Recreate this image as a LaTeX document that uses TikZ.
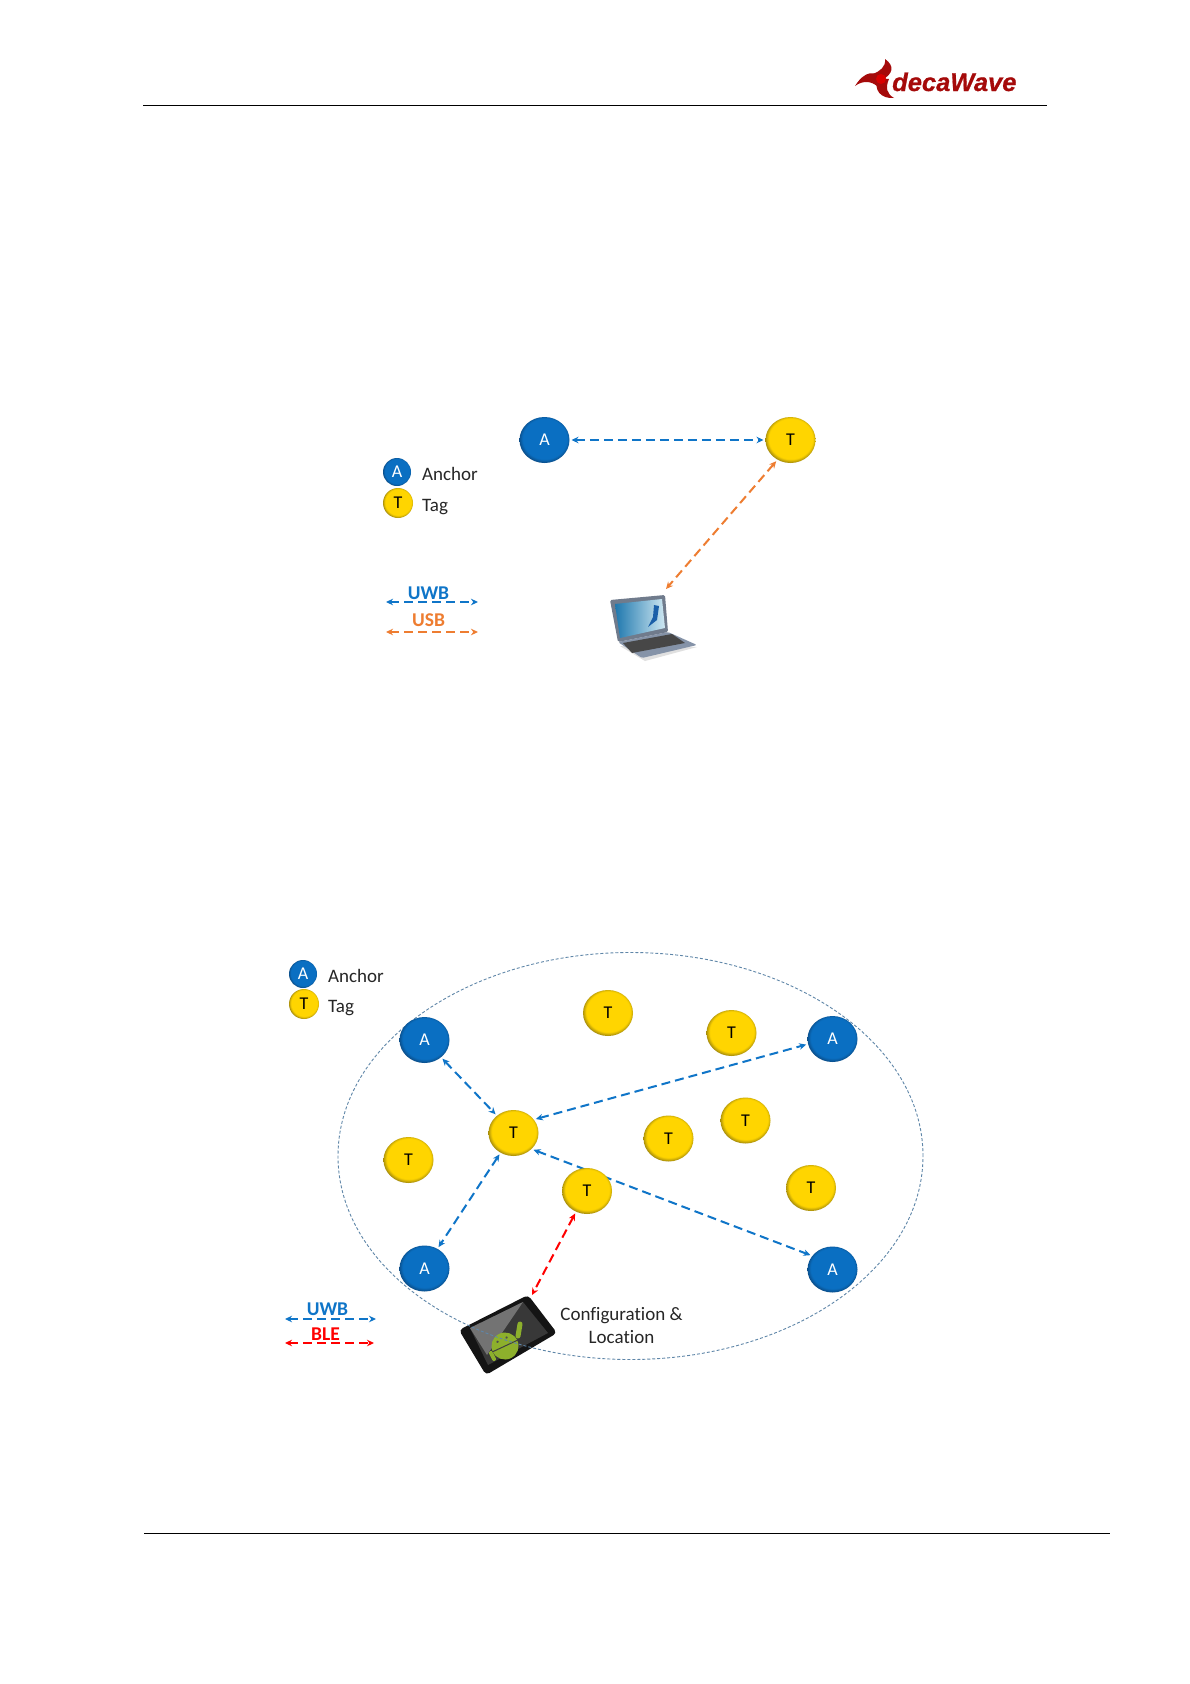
\documentclass[tikz,border=0pt]{standalone}
\usepackage{fontspec}
\setmainfont{Carlito}[Ligatures=NoCommon]
\newfontfamily\logofont{Liberation Sans}[BoldItalicFeatures={FakeBold=0.7}]
\usetikzlibrary{arrows.meta,shapes.geometric}
\pgfdeclarelayer{bg}
\pgfsetlayers{bg,main}
\definecolor{uwbc}{HTML}{0F75C8}
\definecolor{usbc}{HTML}{EE7D31}
\definecolor{blec}{HTML}{FF0000}
\definecolor{zonec}{HTML}{5F86A8}
\definecolor{logoc}{HTML}{A50A0A}
\definecolor{ballb}{HTML}{0A6FC2}
\definecolor{ballbd}{HTML}{0B3F70}
\definecolor{bally}{HTML}{FFD500}
\definecolor{ballyd}{HTML}{7F6C10}
\definecolor{droid}{HTML}{8DB02C}
\definecolor{lapbase}{HTML}{8593A8}
\definecolor{lapframe}{HTML}{707B8C}
\definecolor{scra}{HTML}{1F78AE}
\definecolor{scrb}{HTML}{CFE8F2}
\definecolor{scrc}{HTML}{1A5FA8}
\pgfdeclareradialshading{ballblue}{\pgfpoint{0.5bp}{2.5bp}}{color(0bp)=(ballb);color(22bp)=(ballb);color(27.5bp)=(ballbd);color(50bp)=(ballbd)}
\pgfdeclareradialshading{ballyellow}{\pgfpoint{0.5bp}{2.5bp}}{color(0bp)=(bally);color(22bp)=(bally);color(27.5bp)=(ballyd);color(50bp)=(ballyd)}
\tikzset{
  x=1pt,y=-1pt,
  ball/.style={ellipse,inner sep=0pt,outer sep=2pt,minimum width=#1,minimum height=#1*0.92},
  anchorbig/.style={ball=50,shading=ballblue,text=white,font=\fontsize{18}{18}\selectfont},
  tagbig/.style={ball=50,shading=ballyellow,text=black,font=\fontsize{18}{18}\selectfont},
  anchorsmall/.style={ellipse,inner sep=0pt,outer sep=0pt,minimum width=28,minimum height=28,shading=ballblue,text=white,font=\fontsize{18}{18}\selectfont},
  tagsmall/.style={ellipse,inner sep=0pt,outer sep=0pt,minimum width=30,minimum height=30,shading=ballyellow,text=black,font=\fontsize{18}{18}\selectfont},
  legtext/.style={anchor=west,inner sep=0pt,text=black!85,font=\fontsize{19}{19}\selectfont},
  linklabel/.style={inner sep=0pt,font=\bfseries\fontsize{19.5}{19.5}\selectfont},
  captext/.style={inner sep=0pt,align=center,text=black!85,font=\fontsize{19}{23}\selectfont},
  link/.style={line width=2pt,dash pattern=on 9pt off 5pt,{Stealth[length=7pt,width=6.5pt]}-{Stealth[length=7pt,width=6.5pt]}},
  uwb/.style={link,draw=uwbc},
  usb/.style={link,draw=usbc},
  ble/.style={link,draw=blec},
  rule/.style={line width=0.9pt,draw=black},
  zone/.style={ellipse,draw=zonec,line width=0.9pt,dash pattern=on 3pt off 2pt,minimum width=585,minimum height=407,inner sep=0pt},
}
\begin{document}
\begin{tikzpicture}
\begin{pgfonlayer}{bg}
\fill[white] (0,0) rectangle (1190,1684);
\end{pgfonlayer}
\useasboundingbox (0,0) rectangle (1190,1684);

% header and footer rules
\coordinate (hl) at (143,105.5); \coordinate (hr) at (1047,105.5);
\coordinate (fl) at (144,1533); \coordinate (fr) at (1110,1533);
\draw[rule] (hl) -- (hr);
\draw[rule] (fl) -- (fr);

% logo
\fill[logoc] (882,80) .. controls (893,74) and (895,66) .. (885,59) .. controls (886,67) and (880,71) .. (873,74) -- cycle;
\fill[logoc] (884,80) .. controls (876,70) and (865,70) .. (855,86) .. controls (863,80) and (872,81) .. (878,87) -- cycle;
\fill[logoc] (878,78) .. controls (873,90) and (881,99) .. (894,98) .. controls (887,94) and (885,88) .. (889,79) -- cycle;
\fill[red!85!black] (881,79) circle (5);
\node[inner sep=0pt,anchor=base west,text=logoc] (logotext) at (892,91)
  {\logofont\bfseries\itshape\fontsize{25.5}{25.5}\selectfont decaWave};

% --- top diagram ---
\node[anchorbig] (topA) at (544.5,440) {A};
\node[tagbig] (topT) at (790.5,440) {T};
\node[anchorsmall] (legA1) at (397,472) {A};
\node[tagsmall] (legT1) at (398,503) {T};
\node[legtext] (legA1t) at (422,474) {Anchor};
\node[legtext] (legT1t) at (422,507) {Tag};
\node[linklabel,text=uwbc] (uwb1t) at (428.5,593) {UWB};
\node[linklabel,text=usbc] (usb1t) at (428.5,620) {USB};
\coordinate (uwb1a) at (386,602); \coordinate (uwb1b) at (478,602);
\coordinate (usb1a) at (386,632); \coordinate (usb1b) at (478,632);
\coordinate (laptop) at (666,589);

% laptop
\fill[black!12] (620,646) -- (697,647) -- (645,661) -- cycle;
\fill[lapbase,rounded corners=1.5pt] (618,642) -- (668,632) -- (697,645) -- (642,658) -- cycle;
\fill[black!72] (623,643) -- (672,634) -- (685,643) -- (632,653) -- cycle;
\fill[lapframe,rounded corners=1.5pt] (610,600) -- (665,595) -- (668,632) -- (618,642) -- cycle;
\shade[left color=scra,right color=scrb] (615,604) -- (662,599) -- (665,628) -- (620,638) -- cycle;
\fill[scrc] (654,605) -- (659,606) -- (657,620) -- (648,627) -- (653,617) -- cycle;

\begin{pgfonlayer}{bg}
\draw[uwb] (topA) -- (topT);
\draw[usb] (topT.236) -- (laptop);
\draw[uwb] (uwb1a) -- (uwb1b);
\draw[usb] (usb1a) -- (usb1b);
\end{pgfonlayer}

% --- bottom diagram ---
% tablet
\fill[black!92,rounded corners=4pt] (459,1330) -- (528,1295) -- (557,1333) -- (486,1375) -- cycle;
\fill[black!78] (470,1328) -- (523,1302) -- (548,1333) -- (488,1365) -- cycle;
\fill[black!55] (470,1328) -- (523,1302) -- (487,1355) -- cycle;
\draw[droid,line width=5pt,line cap=round] (518,1336) -- (520,1324);
\draw[droid,line width=4pt,line cap=round] (491,1353) -- (494,1359);
\begin{scope}[shift={(505,1346)},rotate=25]
  \fill[droid] (0,0) circle (13.5);
  \draw[black!75,line width=1pt] (-14,0) -- (14,0);
  \fill[black!70] (-5,-7) circle (1.3) (5,-7) circle (1.3);
\end{scope}

\node[zone] (zone) at (630.5,1156) {};

\node[anchorbig] (a1) at (424.5,1040) {A};
\node[anchorbig] (a2) at (832.5,1039) {A};
\node[anchorbig] (a3) at (424.5,1268.5) {A};
\node[anchorbig] (a4) at (832.5,1269.5) {A};
\node[tagbig] (t1) at (513.5,1133) {T};
\node[tagbig] (t2) at (608,1013) {T};
\node[tagbig] (t3) at (731.5,1033) {T};
\node[tagbig] (t4) at (668.5,1138.5) {T};
\node[tagbig] (t5) at (745.5,1120.5) {T};
\node[tagbig] (t6) at (408.5,1160) {T};
\node[tagbig] (t7) at (587,1191) {T};
\node[tagbig] (t8) at (811,1188) {T};
\node[anchorsmall] (legA2) at (303,974) {A};
\node[tagsmall] (legT2) at (304,1004) {T};
\node[legtext] (legA2t) at (328,976) {Anchor};
\node[legtext] (legT2t) at (328,1008) {Tag};
\node[linklabel,text=uwbc] (uwb2t) at (327.5,1309) {UWB};
\node[linklabel,text=blec] (ble2t) at (325.5,1334) {BLE};
\node[captext] (cap) at (621.5,1326) {Configuration \&\\Location};
\coordinate (uwb2a) at (285,1319); \coordinate (uwb2b) at (376,1319);
\coordinate (ble2a) at (285,1343); \coordinate (ble2b) at (374,1343);
\coordinate (tablet) at (532,1295);

\begin{pgfonlayer}{bg}
\draw[uwb] (a1) -- (t1);
\draw[uwb] (t1.32) -- (a2.192);
\draw[uwb] (t1) -- (a3);
\draw[uwb] (t1.-40) -- (a4.147);
\draw[ble] (t7) -- (tablet);
\draw[uwb] (uwb2a) -- (uwb2b);
\draw[ble] (ble2a) -- (ble2b);
\end{pgfonlayer}
\end{tikzpicture}
\end{document}
